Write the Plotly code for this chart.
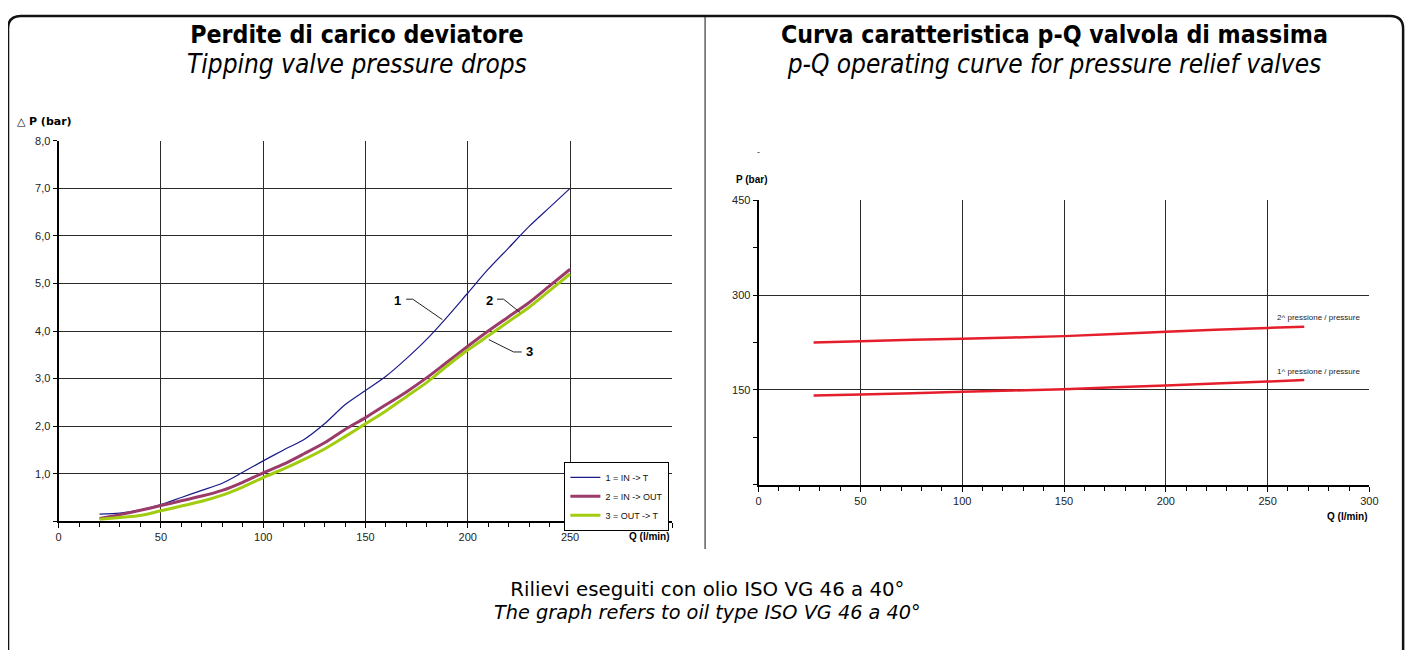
import plotly.graph_objects as go

W, H = 1417, 650

# ---------------- data: left chart (pressure drops) ----------------
q_left = [20, 30, 40, 50, 60, 70, 80, 90, 100, 110, 120, 130, 140, 150,
          160, 170, 180, 190, 200, 210, 220, 230, 240, 250]
dp_in_t = [0.15, 0.17, 0.24, 0.35, 0.50, 0.65, 0.80, 1.03, 1.27, 1.50, 1.72, 2.05, 2.45, 2.75,
           3.05, 3.42, 3.83, 4.30, 4.80, 5.30, 5.75, 6.20, 6.60, 7.00]
dp_in_out = [0.06, 0.14, 0.23, 0.33, 0.43, 0.53, 0.65, 0.82, 1.02, 1.20, 1.42, 1.65, 1.93, 2.18,
             2.45, 2.72, 3.02, 3.35, 3.68, 4.00, 4.30, 4.60, 4.95, 5.30]
dp_out_t = [0.04, 0.08, 0.12, 0.22, 0.32, 0.42, 0.55, 0.72, 0.92, 1.10, 1.30, 1.52, 1.78, 2.05,
            2.32, 2.62, 2.92, 3.27, 3.60, 3.90, 4.20, 4.50, 4.85, 5.20]
series_left_names = ["1 = IN -> T", "2 = IN -> OUT", "3 = OUT -> T"]

left_x_ticks = [0, 50, 100, 150, 200, 250, 300]
left_x_text = ["0", "50", "100", "150", "200", "250", ""]
left_y_ticks = [0, 1, 2, 3, 4, 5, 6, 7, 8]
left_y_text = ["", "1,0", "2,0", "3,0", "4,0", "5,0", "6,0", "7,0", "8,0"]

# ---------------- data: right chart (relief valve p-Q) ----------------
q_right = [27, 50, 100, 150, 200, 250, 268]
p_second = [225, 227, 231, 235, 242, 248, 250]
p_first = [141, 142.5, 147, 151, 157, 163, 165.5]

right_x_ticks = [0, 50, 100, 150, 200, 250, 300]
right_y_ticks = [150, 300, 450]

# the figure sits 8px inside the page (default body margin): page px -> paper
OX, OY = 8, 8

def px(x):
    return (x - OX) / W

def py(y):
    return 1 - (y - OY) / H

fig = go.Figure()

fig.add_trace(go.Scatter(x=q_left, y=dp_in_t, mode="lines", name=series_left_names[0],
                         line=dict(color="#1a1a8a", width=1.2, shape="spline", smoothing=0.8),
                         xaxis="x", yaxis="y"))
fig.add_trace(go.Scatter(x=q_left, y=dp_in_out, mode="lines", name=series_left_names[1],
                         line=dict(color="#9b3b6a", width=3, shape="spline", smoothing=0.8),
                         xaxis="x", yaxis="y"))
fig.add_trace(go.Scatter(x=q_left, y=dp_out_t, mode="lines", name=series_left_names[2],
                         line=dict(color="#a2cc10", width=3, shape="spline", smoothing=0.8),
                         xaxis="x", yaxis="y"))

fig.add_trace(go.Scatter(x=q_right, y=p_second, mode="lines", name="2^ pressione / pressure",
                         line=dict(color="#e51e2b", width=2.5, shape="spline", smoothing=0.6),
                         xaxis="x2", yaxis="y2", showlegend=False))
fig.add_trace(go.Scatter(x=q_right, y=p_first, mode="lines", name="1^ pressione / pressure",
                         line=dict(color="#e51e2b", width=2.5, shape="spline", smoothing=0.6),
                         xaxis="x2", yaxis="y2", showlegend=False))

tickfont = dict(family="Liberation Sans, Arial, sans-serif", size=11, color="#222")
gridc = "#2a2a2a"

fig.update_layout(
    width=W, height=H,
    margin=dict(l=0, r=0, t=0, b=0),
    paper_bgcolor="white", plot_bgcolor="white",
    font=dict(family="Liberation Sans, Arial, sans-serif", color="#111"),
    xaxis=dict(domain=[px(56), px(675)], range=[0, 300], tickvals=left_x_ticks, ticktext=left_x_text,
               showgrid=True, gridcolor=gridc, gridwidth=1, zeroline=False,
               showline=True, linecolor="black", linewidth=2,
               ticks="outside", ticklen=5, tickcolor="black", tickfont=tickfont,
               minor=dict(dtick=10, ticks="outside", ticklen=4, tickcolor="black", showgrid=False),
               anchor="y", fixedrange=True),
    yaxis=dict(domain=[py(520), py(136)], range=[0, 8], tickvals=left_y_ticks, ticktext=left_y_text,
               showgrid=True, gridcolor=gridc, gridwidth=1, zeroline=False,
               showline=True, linecolor="black", linewidth=2,
               ticks="outside", ticklen=4, tickcolor="black", tickfont=tickfont,
               anchor="x", fixedrange=True),
    xaxis2=dict(domain=[px(762), px(1378)], range=[0, 300], tickvals=right_x_ticks,
                showgrid=True, gridcolor=gridc, gridwidth=1, zeroline=False,
                showline=True, linecolor="black", linewidth=2,
                ticks="outside", ticklen=5, tickcolor="black", tickfont=tickfont,
                minor=dict(dtick=10, ticks="outside", ticklen=4, tickcolor="black", showgrid=False),
                anchor="y2", fixedrange=True),
    yaxis2=dict(domain=[py(483), py(196)], range=[0, 450], tickvals=right_y_ticks,
                showgrid=True, gridcolor=gridc, gridwidth=1, zeroline=False,
                showline=True, linecolor="black", linewidth=2,
                ticks="outside", ticklen=4, tickcolor="black", tickfont=tickfont,
                minor=dict(tickvals=[0, 75, 225, 375], ticks="outside", ticklen=4,
                           tickcolor="black", showgrid=False),
                anchor="x2", fixedrange=True),
    legend=dict(x=px(672), y=py(460), xanchor="right", yanchor="top",
                bgcolor="white", bordercolor="black", borderwidth=1,
                font=dict(family="Liberation Sans, Arial, sans-serif", size=9, color="#111"),
                itemwidth=30, tracegroupgap=0),
    showlegend=True,
)

annotations = []

def ann(text, x, y, font, xanchor="center", yanchor="middle", xref="paper", yref="paper"):
    annotations.append(dict(text=text, x=x, y=y, xref=xref, yref=yref, showarrow=False,
                            xanchor=xanchor, yanchor=yanchor, font=font))

# base size sets the line spacing (1.3 x size); spans set the glyph size
title_font = dict(family="DejaVu Sans Condensed, DejaVu Sans, sans-serif", size=23.2, color="black")
B = '<span style="font-size:24.7px"><b>{}</b></span>'
I = '<span style="font-size:26px"><i>{}</i></span>'
ann(B.format("Perdite di carico deviatore") + "<br>" + I.format("Tipping valve pressure drops"),
    px(357), py(44), title_font)
ann(B.format("Curva caratteristica p-Q valvola di massima") + "<br>"
    + I.format("p-Q operating curve for pressure relief valves"),
    px(1060), py(44), title_font)

foot = dict(family="DejaVu Sans, sans-serif", size=17.6, color="black")
ann('<span style="font-size:19.8px">Rilievi eseguiti con olio ISO VG 46 a 40°</span><br>'
    '<span style="font-size:19.3px"><i>The graph refers to oil type ISO VG 46 a 40°</i></span>',
    px(710), py(600), foot)

axfont = dict(family="Liberation Sans, Arial, sans-serif", size=10, color="black")
ann("△ <b>P (bar)</b>", px(12), py(116), dict(family="DejaVu Sans, sans-serif", size=11, color="black"),
    xanchor="left")
ann("<b>Q (l/min)</b>", px(675), py(535), axfont, xanchor="right")
ann("<b>P (bar)</b>", px(737), py(175), axfont, xanchor="left")
ann("-", px(762), py(147), dict(family="Liberation Sans, Arial", size=9, color="#333"))
ann("<b>Q (l/min)</b>", px(1379), py(515), axfont, xanchor="right")

small = dict(family="Liberation Sans, Arial, sans-serif", size=8, color="#222")
ann("2^ pressione / pressure", 275, 265, small, xref="x2", yref="y2", xanchor="center")
ann("1^ pressione / pressure", 275, 179, small, xref="x2", yref="y2", xanchor="center")

lab = dict(family="Liberation Sans, Arial, sans-serif", size=13, color="black")
ann("<b>1</b>", 165.5, 4.64, lab, xref="x", yref="y")
ann("<b>2</b>", 210.5, 4.64, lab, xref="x", yref="y")
ann("<b>3</b>", 230.0, 3.56, lab, xref="x", yref="y")

fig.update_layout(annotations=annotations)

shapes = []
# leader lines for the curve labels
for pts in ([(169.9, 4.67), (173.1, 4.67), (187.6, 4.24)],
            [(214.3, 4.67), (217.5, 4.67), (225.6, 4.39)],
            [(226.4, 3.56), (222.4, 3.56), (210.3, 3.82)]):
    path = "M " + " L ".join(f"{a},{b}" for a, b in pts)
    shapes.append(dict(type="path", path=path, xref="x", yref="y",
                       line=dict(color="#222", width=1)))

# outer rounded frame
r = 13
x0, x1, y0, y1 = 5, 1412, 10, 720
def P(xp, yp):
    return f"{px(xp):.5f},{py(yp):.5f}"
frame = (f"M {P(x0, y1)} L {P(x0, y0 + r)} Q {P(x0, y0)} {P(x0 + r, y0)} "
         f"L {P(x1 - r, y0)} Q {P(x1, y0)} {P(x1, y0 + r)} L {P(x1, y1)}")
shapes.append(dict(type="path", path=frame, xref="paper", yref="paper",
                   line=dict(color="#111", width=2.5)))
# divider between the two charts
shapes.append(dict(type="line", x0=px(708), x1=px(708), y0=py(10), y1=py(548),
                   xref="paper", yref="paper", line=dict(color="#111", width=1)))

fig.update_layout(shapes=shapes)

fig.write_html("out.html")
